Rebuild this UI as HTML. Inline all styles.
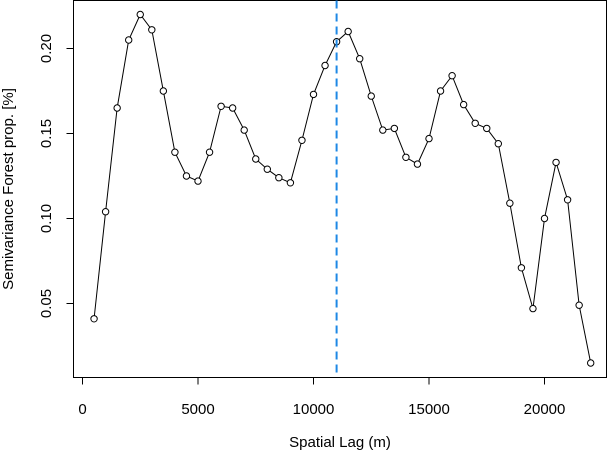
<!DOCTYPE html>
<html><head><meta charset="utf-8"><style>
html,body{margin:0;padding:0;background:#fff;}
svg{display:block;font-family:"Liberation Sans",Arial,sans-serif;}
</style></head><body>
<svg id="chart" width="609" height="454" viewBox="0 0 609 454">
<rect x="73.5" y="0.5" width="533" height="377" fill="none" stroke="#000" stroke-width="1"/>
<g id="xticks"></g>
<g id="yticks"></g>
<g id="series"></g>
<text x="340" y="447" text-anchor="middle" font-size="15">Spatial Lag (m)</text>
<text transform="translate(13,189) rotate(-90)" text-anchor="middle" font-size="15">Semivariance Forest prop. [%]</text>
</svg>
<script>
const lags=[500,1000,1500,2000,2500,3000,3500,4000,4500,5000,5500,6000,6500,7000,7500,8000,8500,9000,9500,10000,10500,11000,11500,12000,12500,13000,13500,14000,14500,15000,15500,16000,16500,17000,17500,18000,18500,19000,19500,20000,20500,21000,21500,22000];
const semivar=[0.041,0.104,0.165,0.205,0.220,0.211,0.175,0.139,0.125,0.122,0.139,0.166,0.165,0.152,0.135,0.129,0.124,0.121,0.146,0.173,0.190,0.204,0.210,0.194,0.172,0.152,0.153,0.136,0.132,0.147,0.175,0.184,0.167,0.156,0.153,0.144,0.109,0.071,0.047,0.100,0.133,0.111,0.049,0.015];
const xTicks=[0,5000,10000,15000,20000];
const yTicks=[0.05,0.10,0.15,0.20];
const yTickLabels=["0.05","0.10","0.15","0.20"];
const cutoff=11000;
const NS="http://www.w3.org/2000/svg";
const X=v=>82.5+v*0.0231;
const Y=v=>303.5-(v-0.05)*1700;
function mk(tag,attrs,parent){const e=document.createElementNS(NS,tag);for(const k in attrs)e.setAttribute(k,attrs[k]);parent.appendChild(e);return e;}
const xg=document.getElementById('xticks'),yg=document.getElementById('yticks'),sg=document.getElementById('series');
xTicks.forEach(t=>{
 const l=mk('line',{x1:X(t),x2:X(t),y1:377.5,y2:384.5,stroke:'#000'},xg);
 
 
 const tx=mk('text',{x:X(t),y:414,'text-anchor':'middle','font-size':15},xg);
 tx.textContent=t;
 
 
});
yTicks.forEach((t,i)=>{
 const l=mk('line',{x1:66.5,x2:73.5,y1:Y(t),y2:Y(t),stroke:'#000'},yg);
 
 
 const tx=mk('text',{transform:`translate(51,${Y(t)}) rotate(-90)`,'text-anchor':'middle','font-size':15},yg);
 tx.textContent=yTickLabels[i];
 
 
});
const path=mk('polyline',{points:lags.map((v,i)=>X(v)+','+Y(semivar[i])).join(' '),fill:'none',stroke:'#000','stroke-width':1},sg);


lags.forEach((v,i)=>{
 const c=mk('circle',{cx:X(v),cy:Y(semivar[i]),r:3.2,fill:'#fff',stroke:'#000','stroke-width':1},sg);
 
 
});
const d=mk('line',{x1:X(cutoff),x2:X(cutoff),y1:0.5,y2:377.5,stroke:'#1e88e5','stroke-width':2,'stroke-dasharray':'8,5'},sg);


</script>
</body></html>
